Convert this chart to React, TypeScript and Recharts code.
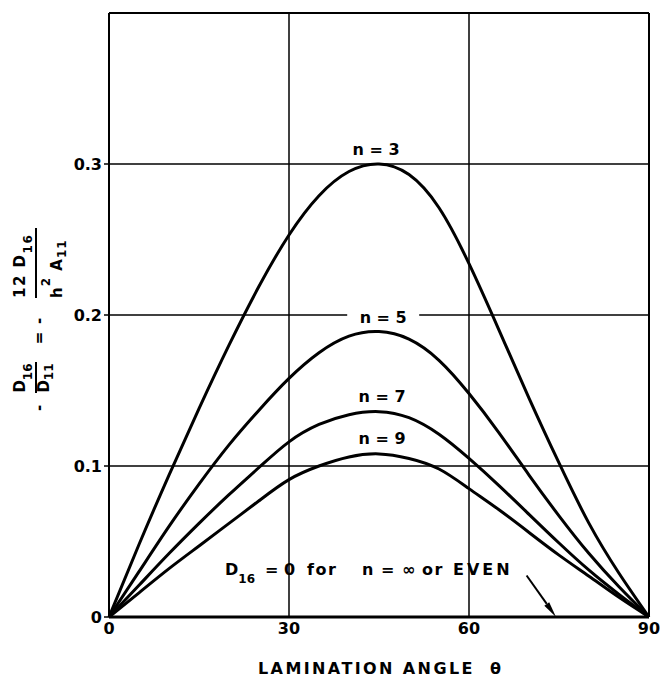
import { LineChart, Line, XAxis, YAxis, CartesianGrid, ReferenceLine, ReferenceDot } from "recharts";

const FONT = '"DejaVu Sans", sans-serif';

// lamination angle (deg) and -D16/D11
const angles = [0, 5, 10, 15, 20, 25, 30, 35, 40, 45, 50, 55, 60, 65, 70, 75, 80, 85, 90];
const n3 = [0, 0.048, 0.094, 0.138, 0.18, 0.219, 0.253, 0.279, 0.295, 0.3, 0.293, 0.271, 0.234, 0.19, 0.145, 0.102, 0.062, 0.029, 0];
const n5 = [0, 0.03, 0.06, 0.088, 0.114, 0.137, 0.158, 0.175, 0.186, 0.189, 0.184, 0.17, 0.148, 0.122, 0.094, 0.067, 0.042, 0.02, 0];
const n7 = [0, 0.021, 0.042, 0.062, 0.081, 0.099, 0.116, 0.1275, 0.134, 0.136, 0.132, 0.121, 0.105, 0.087, 0.068, 0.049, 0.031, 0.015, 0];
const n9 = [0, 0.016, 0.032, 0.047, 0.062, 0.077, 0.091, 0.1, 0.106, 0.108, 0.105, 0.098, 0.085, 0.071, 0.056, 0.041, 0.027, 0.013, 0];

const xTicks = [0, 30, 60, 90];
const yTicks = [0, 0.1, 0.2, 0.3];

const curveLabels = [
  { text: "n = 3", angle: 44.5, value: 0.31, masked: false },
  { text: "n = 5", angle: 45.7, value: 0.1987, masked: true },
  { text: "n = 7", angle: 45.5, value: 0.1464, masked: false },
  { text: "n = 9", angle: 45.5, value: 0.1185, masked: false },
];

// arrow for the "D16 = 0" note
const arrowFrom = { angle: 69.6, value: 0.0275 };
const arrowTo = { angle: 74.5, value: 0 };

const data = angles.map((a, i) => ({ angle: a, n3: n3[i], n5: n5[i], n7: n7[i], n9: n9[i] }));
const series = ["n3", "n5", "n7", "n9"];

const tickStyle = { fill: "#000", fontSize: 16, fontWeight: "bold", fontFamily: FONT };

function CurveLabel(props: any) {
  const { viewBox, text, masked } = props;
  const cx = viewBox.x + viewBox.width / 2;
  const cy = viewBox.y + viewBox.height / 2;
  return (
    <g>
      {masked && <rect x={cx - 36} y={cy - 6} width={72} height={12} fill="#fff" />}
      <text x={cx} y={cy} dy="0.36em" textAnchor="middle" fontFamily={FONT} fontWeight="bold" fontSize={16} fill="#000">
        {text}
      </text>
    </g>
  );
}

function Arrow(props: any) {
  const { x1, y1, x2, y2 } = props;
  const dx = x2 - x1;
  const dy = y2 - y1;
  const len = Math.sqrt(dx * dx + dy * dy);
  const ux = dx / len;
  const uy = dy / len;
  const bx = x2 - ux * 16;
  const by = y2 - uy * 16;
  return (
    <g>
      <line x1={x1} y1={y1} x2={bx} y2={by} stroke="#000" strokeWidth={2} />
      <polygon points={`${x2},${y2} ${bx - uy * 3},${by + ux * 3} ${bx + uy * 3},${by - ux * 3}`} fill="#000" />
    </g>
  );
}

export default function App() {
  return (
    <div style={{ position: "absolute", left: 0, top: 0, background: "#fff" }}>
      <LineChart width={662} height={682} data={data} margin={{ top: 13, right: 13, left: 0, bottom: 0 }}>
        <CartesianGrid stroke="#000" strokeWidth={1.5} />
        <XAxis
          dataKey="angle"
          type="number"
          domain={[0, 90]}
          ticks={xTicks}
          height={65}
          axisLine={{ stroke: "#000", strokeWidth: 3 }}
          tickLine={false}
          tickSize={5}
          tickMargin={1}
          tick={tickStyle}
        />
        <YAxis
          type="number"
          domain={[0, 0.4]}
          ticks={yTicks}
          width={109}
          axisLine={{ stroke: "#000", strokeWidth: 2 }}
          tickLine={{ stroke: "#000", strokeWidth: 1.5 }}
          tickSize={5}
          tickMargin={2}
          tick={tickStyle}
        />
        <ReferenceLine y={0.4} stroke="#000" strokeWidth={2} />
        <ReferenceLine x={90} stroke="#000" strokeWidth={2} />
        {series.map((key) => (
          <Line
            key={key}
            type="natural"
            dataKey={key}
            stroke="#000"
            strokeWidth={3}
            dot={false}
            activeDot={false}
            isAnimationActive={false}
          />
        ))}
        {curveLabels.map((l) => (
          <ReferenceDot
            key={l.text}
            x={l.angle}
            y={l.value}
            r={1}
            fill="none"
            stroke="none"
            label={<CurveLabel text={l.text} masked={l.masked} />}
          />
        ))}
        <ReferenceLine
          segment={[
            { x: arrowFrom.angle, y: arrowFrom.value },
            { x: arrowTo.angle, y: arrowTo.value },
          ]}
          shape={<Arrow />}
        />
        <g fontFamily={FONT} fontWeight="bold" fill="#000">
          {/* y-axis formula: - D16/D11 = - 12 D16 / (h^2 A11) */}
          <g transform="rotate(-90)" fontSize={15}>
            <text x={-408} y={44} textAnchor="middle">-</text>
            <text x={-378} y={25} textAnchor="middle">
              D<tspan fontSize={12} dy={7}>16</tspan>
            </text>
            <line x1={-393} x2={-362} y1={36} y2={36} stroke="#000" strokeWidth={2} />
            <text x={-378} y={49} textAnchor="middle">
              D<tspan fontSize={12} dy={4}>11</tspan>
            </text>
            <text x={-338} y={44} textAnchor="middle">=</text>
            <text x={-321} y={44} textAnchor="middle">-</text>
            <text x={-298} y={25} letterSpacing={1.5}>
              12 D<tspan fontSize={12} dy={7}>16</tspan>
            </text>
            <line x1={-298} x2={-228} y1={36} y2={36} stroke="#000" strokeWidth={2} />
            <text x={-298} y={62} letterSpacing={1}>
              h<tspan fontSize={12} dy={-12}>2</tspan>
              <tspan dy={12}> A</tspan>
              <tspan fontSize={12} dy={4}>11</tspan>
            </text>
          </g>
          {/* note */}
          <text y={575} fontSize={16}>
            <tspan x={225}>D</tspan>
            <tspan fontSize={12} dy={8}>16</tspan>
            <tspan x={265} dy={-8}>=</tspan>
            <tspan x={284}>0</tspan>
            <tspan x={307} letterSpacing={1.5}>for</tspan>
            <tspan x={362} letterSpacing={1}>n = ∞</tspan>
            <tspan x={422} letterSpacing={1.5}>or</tspan>
            <tspan x={453} letterSpacing={3}>EVEN</tspan>
          </text>
          {/* x-axis title */}
          <text y={674} fontSize={16}>
            <tspan x={258} letterSpacing={2.4}>LAMINATION ANGLE</tspan>
            <tspan x={490}>θ</tspan>
          </text>
        </g>
      </LineChart>
    </div>
  );
}
